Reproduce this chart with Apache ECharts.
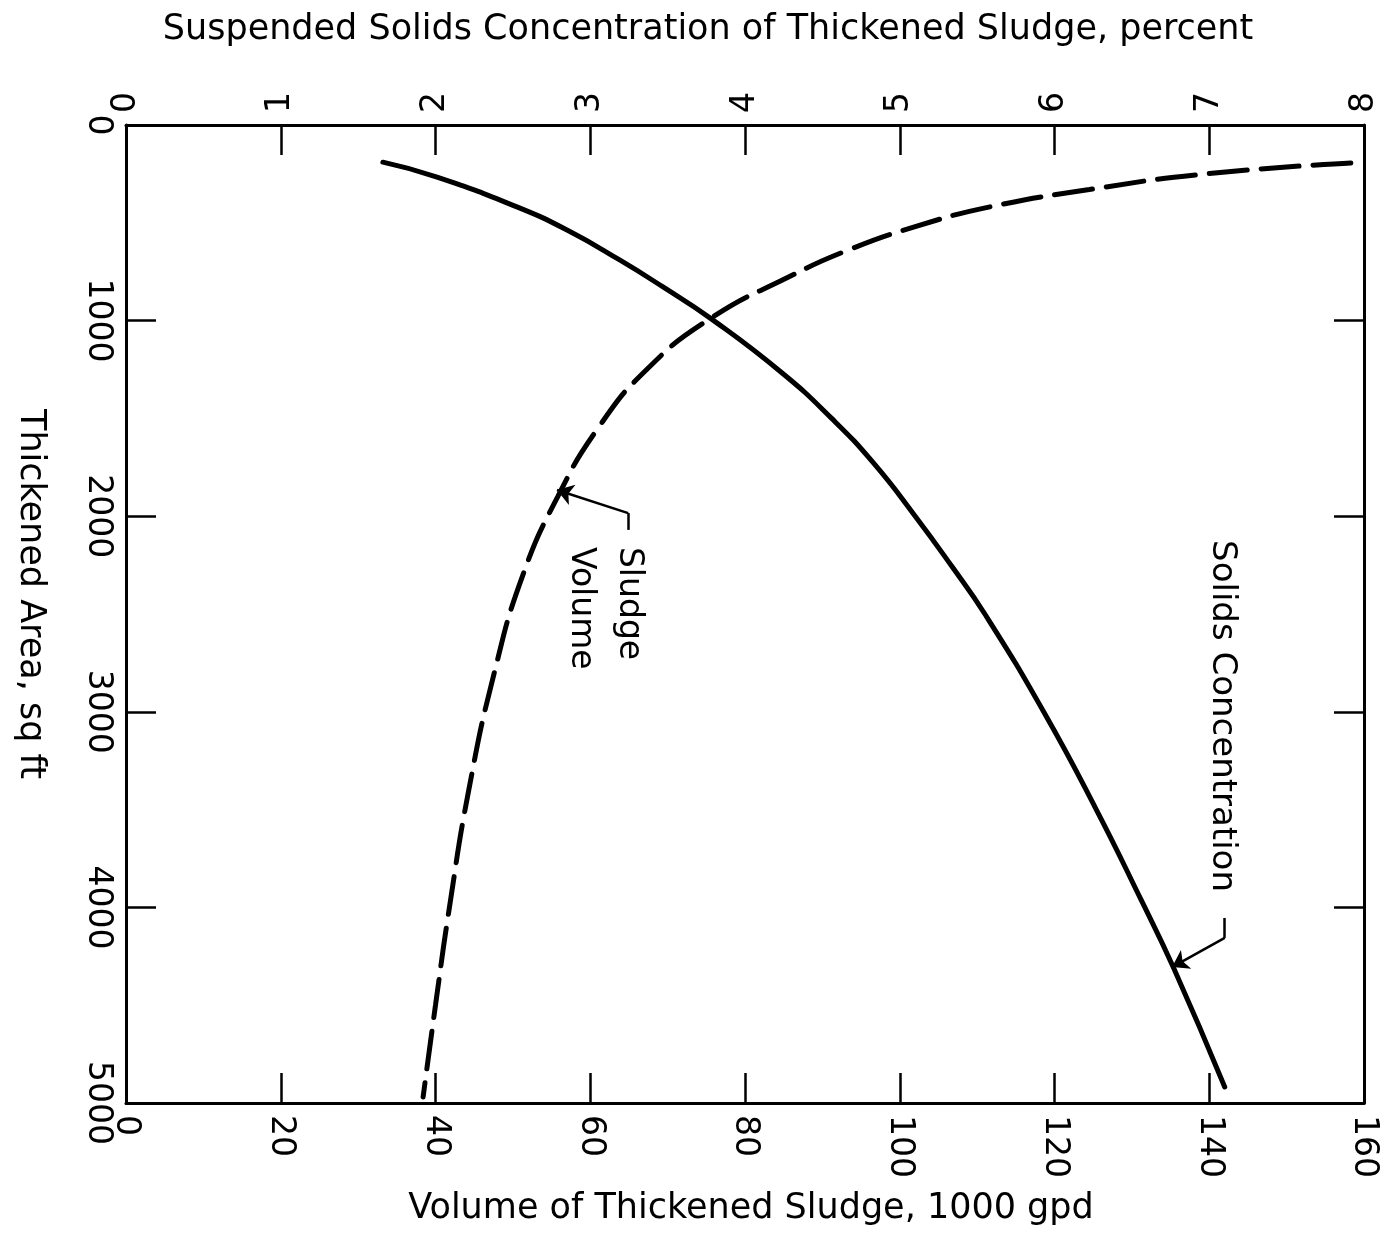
<!DOCTYPE html>
<html>
<head>
<meta charset="utf-8">
<script src="https://cdn.jsdelivr.net/npm/echarts@6/dist/echarts.min.js"></script>
<style>
body{
	margin:0;
	background:#fff;
}
#chart{
	width:1392px;
	height:1241px;
}
</style>
</head>
<body>
<div id="chart"></div>
<script type="text/javascript">
// thickened area, sq ft  vs  solids concentration, percent (top axis)
var solidsArea = [190, 266, 420, 537, 690, 828, 990, 1268, 1500, 1728, 2000, 2260, 2500, 3000, 3500, 3962, 4310, 4918];
var solidsConc = [1.66, 2.01, 2.53, 2.85, 3.19, 3.47, 3.78, 4.24, 4.56, 4.83, 5.10, 5.34, 5.55, 5.93, 6.27, 6.56, 6.77, 7.10];

// thickened area, sq ft  vs  volume of thickened sludge, 1000 gpd (bottom axis)
var volumeArea = [194, 250, 330, 420, 520, 640, 780, 990, 1250, 1550, 1900, 2300, 2800, 3400, 4000, 4500, 4969];
var volumeVal = [158.3, 139.5, 124.5, 111.5, 102.0, 93.3, 85.5, 75.5, 67.3, 61.0, 55.8, 51.3, 47.6, 44.3, 41.8, 40.0, 38.4];

// labels and their leader lines, in data units
var solidsLabelAt = [7.08, 2122];
var solidsLeader = [[7.10, 4054], [7.10, 4156], [6.76, 4305]];
var volumeLabelAt = [61.8, 2157];
var volumeLeader = [[64.9, 2070], [64.9, 1984], [55.7, 1866]];

var FONT = 'DejaVu Sans';

function pairs(xs, ys) {
	var out = [];
	for (var i = 0; i < xs.length; i++) out.push([xs[i], ys[i]]);
	return out;
}

function markLineOf(pts) {
	return {
		silent: true,
		symbol: ['none', 'arrow'],
		symbolSize: 16,
		label: {show: false},
		lineStyle: {color: '#000', width: 2.5, type: 'solid'},
		data: [
			[{coord: pts[0], symbol: 'none'}, {coord: pts[1], symbol: 'none'}],
			[{coord: pts[1], symbol: 'none'}, {coord: pts[2], symbol: 'arrow'}]
		]
	};
}

var axisLine = {onZero: false, lineStyle: {color: '#000', width: 3}};
var tick = {inside: true, length: 30, lineStyle: {color: '#000', width: 2.5}};
var lbl = {
	rotate: -90, margin: 12, color: '#000', fontSize: 33, fontFamily: FONT,
	formatter: function (v) { return String(v); }
};
var nameStyle = {color: '#000', fontSize: 35, fontFamily: FONT};

var chart = echarts.init(document.getElementById('chart'));
chart.setOption({
	animation: false,
	backgroundColor: '#fff',
	grid: {left: 126, top: 125, right: 28, bottom: 138, containLabel: false, outerBoundsMode: 'none'},
	xAxis: [{
		type: 'value', position: 'bottom',
		min: 0, max: 160, interval: 20,
		name: 'Volume of Thickened Sludge, 1000 gpd',
		nameLocation: 'middle', nameGap: 88,
		nameTextStyle: Object.assign({padding: [0, 0, 0, 12]}, nameStyle),
		axisLine: axisLine, axisTick: tick, axisLabel: lbl,
		splitLine: {show: false}
	}, {
		type: 'value', position: 'top',
		min: 0, max: 8, interval: 1,
		name: 'Suspended Solids Concentration of Thickened Sludge, percent',
		nameLocation: 'middle', nameGap: 78,
		nameTextStyle: Object.assign({padding: [0, 74, 0, 0]}, nameStyle),
		axisLine: axisLine, axisTick: tick, axisLabel: lbl,
		splitLine: {show: false}
	}],
	yAxis: [{
		type: 'value', position: 'left', inverse: true,
		min: 0, max: 5000, interval: 1000,
		name: 'Thickened Area, sq ft',
		nameLocation: 'middle', nameGap: 78, nameRotate: -90,
		nameTextStyle: Object.assign({padding: [0, 40, 0, 0]}, nameStyle),
		axisLine: axisLine, axisTick: tick, axisLabel: lbl,
		splitLine: {show: false}
	}, {
		type: 'value', position: 'right', inverse: true,
		min: 0, max: 5000, interval: 1000,
		axisLine: axisLine, axisTick: tick, axisLabel: {show: false},
		splitLine: {show: false}
	}],
	series: [{
		name: 'Solids Concentration',
		type: 'line',
		xAxisIndex: 1, yAxisIndex: 0,
		smooth: 0.5,
		symbol: 'none',
		lineStyle: {color: '#000', width: 5, cap: 'round'},
		data: pairs(solidsConc, solidsArea),
		markLine: markLineOf(solidsLeader)
	}, {
		name: 'Sludge Volume',
		type: 'line',
		xAxisIndex: 0, yAxisIndex: 0,
		smooth: 0.5,
		symbol: 'none',
		lineStyle: {color: '#000', width: 5, type: [38, 14], cap: 'round'},
		data: pairs(volumeVal, volumeArea),
		markLine: markLineOf(volumeLeader)
	}]
});

// rotated notes, placed through the axes
var p1 = chart.convertToPixel({xAxisIndex: 1, yAxisIndex: 0}, solidsLabelAt);
var p2 = chart.convertToPixel({xAxisIndex: 0, yAxisIndex: 0}, volumeLabelAt);
chart.setOption({
	graphic: [{
		type: 'text', x: p1[0], y: p1[1], rotation: -Math.PI / 2,
		style: {text: 'Solids Concentration', fill: '#000', font: '34px "' + FONT + '"', align: 'left', verticalAlign: 'middle'}
	}, {
		type: 'text', x: p2[0], y: p2[1], rotation: -Math.PI / 2,
		style: {text: 'Sludge\nVolume', fill: '#000', font: '33px "' + FONT + '"', lineHeight: 48, align: 'left', verticalAlign: 'middle'}
	}]
});
</script>
</body>
</html>
